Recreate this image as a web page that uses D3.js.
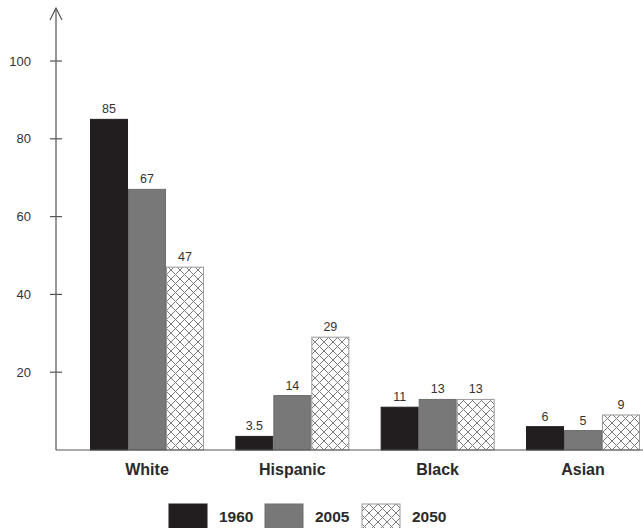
<!DOCTYPE html>
<html><head><meta charset="utf-8">
<script src="https://cdn.jsdelivr.net/npm/d3@7"></script>
<style>html,body{margin:0;padding:0;background:#fff;}svg{display:block;}</style>
</head><body>
<svg id="c" width="643" height="528"></svg>
<script>
const categories = ["White", "Hispanic", "Black", "Asian"];
const years = ["1960", "2005", "2050"];
const values1960 = [85, 3.5, 11, 6];
const values2005 = [67, 14, 13, 5];
const values2050 = [47, 29, 13, 9];
const valueLabels1960 = ["85", "3.5", "11", "6"];
const valueLabels2005 = ["67", "14", "13", "5"];
const valueLabels2050 = ["47", "29", "13", "9"];
const yTicks = [20, 40, 60, 80, 100];

const series = [
  {year: years[0], vals: values1960, labels: valueLabels1960, fill: "#221e1f", stroke: "#221e1f"},
  {year: years[1], vals: values2005, labels: valueLabels2005, fill: "#787878", stroke: "#6e6e6e"},
  {year: years[2], vals: values2050, labels: valueLabels2050, fill: "url(#hatch)", stroke: "#9a9a9a"}
];

const FONT = "Liberation Sans, Arial, Helvetica, sans-serif";
const svg = d3.select("#c");
const defs = svg.append("defs");
const pat = defs.append("pattern").attr("id","hatch").attr("patternUnits","userSpaceOnUse")
  .attr("width",9).attr("height",9);
pat.append("rect").attr("width",9).attr("height",9).attr("fill","#fff");
pat.append("path").attr("d","M-1,-1 L10,10 M-1,10 L10,-1").attr("stroke","#7a7a7a").attr("stroke-width",1).attr("fill","none");

const y = d3.scaleLinear().domain([0, 100]).range([450, 61]);
const x0 = d3.scaleBand().domain(categories).range([56, 674]).paddingInner(0.2155).paddingOuter(0.234);
const x1 = d3.scaleBand().domain(years).range([0, x0.bandwidth()]).padding(0);

// bars
categories.forEach((cat, ci) => {
  series.forEach(s => {
    const v = s.vals[ci];
    const bx = x0(cat) + x1(s.year);
    svg.append("rect")
      .attr("x", bx + 0.5).attr("y", y(v))
      .attr("width", x1.bandwidth() - 1).attr("height", y(0) - y(v))
      .attr("fill", s.fill).attr("stroke", s.stroke).attr("stroke-width", 1);
    svg.append("text")
      .attr("x", bx + x1.bandwidth()/2).attr("y", y(v) - 6)
      .attr("text-anchor","middle").attr("font-family",FONT)
      .attr("font-size", 12.5).attr("fill","#333").text(s.labels[ci]);
  });
  svg.append("text")
    .attr("x", x0(cat) + x0.bandwidth()/2).attr("y", 475)
    .attr("text-anchor","middle").attr("font-family",FONT)
    .attr("font-size", 16).attr("font-weight","bold").attr("fill","#2a2a2a").text(cat);
});

// y axis
const axG = svg.append("g").attr("stroke","#555").attr("stroke-width",1.2).attr("fill","none");
axG.append("line").attr("x1",56).attr("x2",56).attr("y1",8).attr("y2",y(0));
axG.append("path").attr("d","M50,20 L56,8 L62,20");
axG.append("line").attr("x1",56).attr("x2",643).attr("y1",y(0)).attr("y2",y(0));
yTicks.forEach(t => {
  axG.append("line").attr("x1",50).attr("x2",62).attr("y1",y(t)).attr("y2",y(t));
  svg.append("text").attr("x",31).attr("y",y(t)+4.5).attr("text-anchor","end")
    .attr("font-family",FONT).attr("font-size",13).attr("fill","#333").text(t);
});

// legend
const legX = [169, 265, 362];
series.forEach((s, i) => {
  svg.append("rect").attr("x", legX[i]).attr("y", 504).attr("width", 38).attr("height", 26)
    .attr("fill", s.fill).attr("stroke", s.stroke).attr("stroke-width",1);
  svg.append("text").attr("x", legX[i] + 50).attr("y", 522)
    .attr("font-family",FONT).attr("font-size",15.5).attr("font-weight","bold")
    .attr("fill","#2a2a2a").text(s.year);
});
</script>
</body></html>
